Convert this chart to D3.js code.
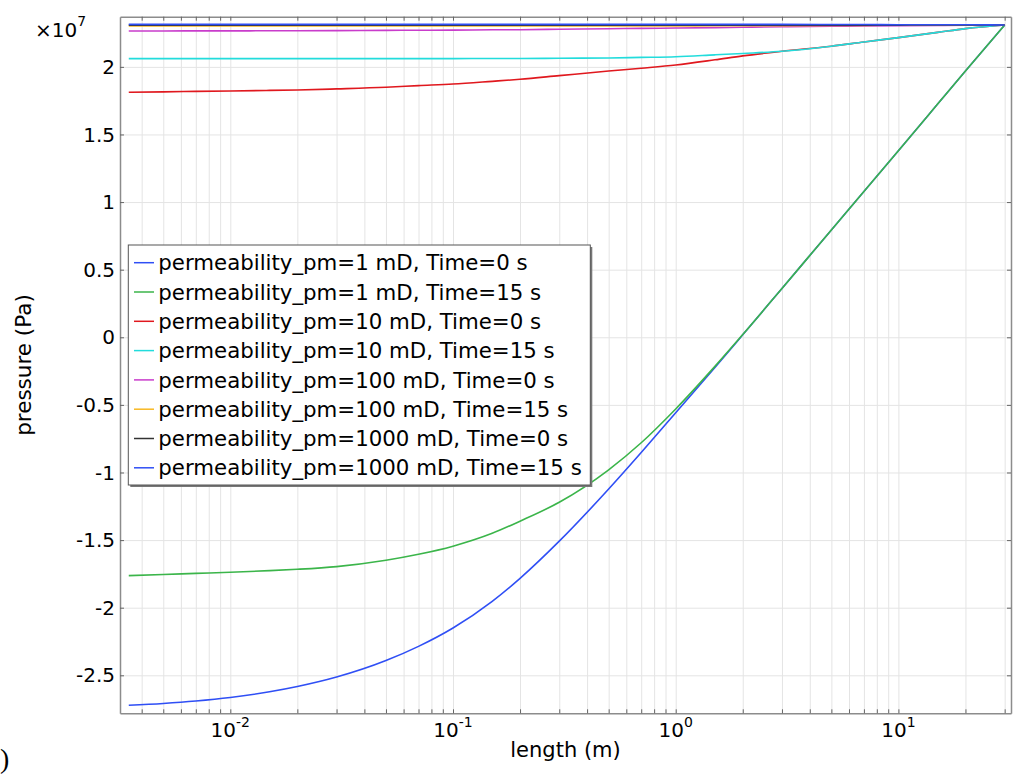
<!DOCTYPE html>
<html>
<head>
<meta charset="utf-8">
<script src="https://cdn.jsdelivr.net/npm/d3@7"></script>
<style>
	body { margin: 0; background: #fff; }
	text { font-family: "DejaVu Sans", sans-serif; fill: #000; }
	.grid line { stroke: #e4e4e4; stroke-width: 1; }
	.grid path { display: none; }
	.frame path { stroke: #8c8c8c; stroke-width: 1.5; }
	.frame line { stroke: #666; }
</style>
</head>
<body>
<div id="chart"></div>
<script>

// sample positions along the length (m)

var lengths = [0.0035, 0.005, 0.007, 0.01, 0.015, 0.02, 0.03, 0.05, 0.07, 0.1,
	0.15, 0.2, 0.3, 0.5, 0.7, 1, 1.5, 2, 3, 5, 7, 10, 15, 20, 30];

// pressure values, in units of 1e7 Pa

var p1mD0 = [-2.722, -2.708, -2.690, -2.664, -2.622, -2.583, -2.513, -2.391, -2.286, -2.150,
	-1.953, -1.783, -1.508, -1.122, -0.852, -0.558, -0.224, 0.018, 0.361, 0.794, 1.078, 1.380, 1.725, 1.970, 2.310];

var p1mD15 = [-1.763, -1.755, -1.746, -1.738, -1.726, -1.716, -1.696, -1.649, -1.605, -1.545,
	-1.450, -1.360, -1.220, -0.980, -0.780, -0.530, -0.215, 0.020, 0.361, 0.794, 1.078, 1.380, 1.725, 1.970, 2.310];

var p10mD0 = [1.812, 1.815, 1.819, 1.822, 1.826, 1.829, 1.837, 1.849, 1.861, 1.873,
	1.893, 1.908, 1.935, 1.969, 1.990, 2.014, 2.052, 2.081, 2.115, 2.153, 2.184, 2.216, 2.255, 2.283, 2.310];

var p10mD15 = [2.061, 2.061, 2.061, 2.061, 2.061, 2.061, 2.061, 2.061, 2.061, 2.061,
	2.062, 2.062, 2.064, 2.066, 2.070, 2.075, 2.089, 2.099, 2.115, 2.153, 2.184, 2.216, 2.255, 2.283, 2.310];

var p100mD0 = [2.265, 2.265, 2.266, 2.266, 2.267, 2.267, 2.268, 2.270, 2.271, 2.272,
	2.274, 2.275, 2.278, 2.282, 2.285, 2.287, 2.290, 2.293, 2.297, 2.300, 2.302, 2.304, 2.306, 2.308, 2.310];

var p100mD15 = [2.302, 2.302, 2.302, 2.302, 2.302, 2.302, 2.302, 2.302, 2.302, 2.302,
	2.302, 2.302, 2.302, 2.303, 2.303, 2.303, 2.304, 2.304, 2.305, 2.306, 2.307, 2.308, 2.309, 2.309, 2.310];

var p1000mD0 = [2.309, 2.309, 2.309, 2.309, 2.309, 2.309, 2.309, 2.309, 2.309, 2.309,
	2.309, 2.309, 2.309, 2.309, 2.309, 2.309, 2.309, 2.309, 2.309, 2.309, 2.309, 2.309, 2.310, 2.310, 2.310];

var p1000mD15 = [2.314, 2.314, 2.314, 2.314, 2.314, 2.314, 2.314, 2.314, 2.314, 2.314,
	2.314, 2.314, 2.314, 2.314, 2.314, 2.314, 2.314, 2.314, 2.314, 2.313, 2.313, 2.312, 2.312, 2.311, 2.310];

var seriesLabels = [
	"permeability_pm=1 mD, Time=0 s",
	"permeability_pm=1 mD, Time=15 s",
	"permeability_pm=10 mD, Time=0 s",
	"permeability_pm=10 mD, Time=15 s",
	"permeability_pm=100 mD, Time=0 s",
	"permeability_pm=100 mD, Time=15 s",
	"permeability_pm=1000 mD, Time=0 s",
	"permeability_pm=1000 mD, Time=15 s"
];

var seriesValues = [p1mD0, p1mD15, p10mD0, p10mD15, p100mD0, p100mD15, p1000mD0, p1000mD15];

var seriesColors = ["#2f4ff5", "#3bb54a", "#e0181e", "#22dcdc", "#c93ccb", "#f8b822", "#333333", "#2f4ff5"];

// tick values

var yTicks = [-2.5, -2, -1.5, -1, -0.5, 0, 0.5, 1, 1.5, 2];
var yTickLabels = ["-2.5", "-2", "-1.5", "-1", "-0.5", "0", "0.5", "1", "1.5", "2"];
var xMajorTicks = [0.01, 0.1, 1, 10];
var xMajorExponents = ["-2", "-1", "0", "1"];


// set size of entire chart area

var svgWidth = 1017;
var svgHeight = 776;

var margin = {
	top: 16.7,
	right: 6,
	bottom: 62.7,
	left: 120
};

var width = svgWidth - margin.left - margin.right;
var height = svgHeight - margin.top - margin.bottom;

var svg = d3.select("#chart")
	.append("svg")
	.attr("width", svgWidth)
	.attr("height", svgHeight);

var chartGroup = svg.append("g")
	.attr("transform", `translate(${margin.left}, ${margin.top})`);


// scales

var xLogScale = d3.scaleLog()
	.domain([Math.pow(10, -2.4953), Math.pow(10, 1.5056)])
	.range([0, width]);

var yLinearScale = d3.scaleLinear()
	.domain([-2.781, 2.371])
	.range([height, 0]);


// minor tick positions: 1..9 times each decade inside the domain

var xMinorTicks = [];
[-3, -2, -1, 0, 1].forEach(function(e) {
	for (var m = 1; m < 10; m++) {
		var v = m * Math.pow(10, e);
		if (v >= xLogScale.domain()[0] && v <= xLogScale.domain()[1]) {
			xMinorTicks.push(v);
		}
	}
});


// grid lines

chartGroup.append("g")
	.classed("grid", true)
	.attr("transform", `translate(0, ${height})`)
	.call(d3.axisBottom(xLogScale).tickValues(xMinorTicks).tickSize(-height).tickFormat(""));

chartGroup.append("g")
	.classed("grid", true)
	.call(d3.axisLeft(yLinearScale).tickValues(yTicks).tickSize(-width).tickFormat(""));


// lines

var lineGen = d3.line()
	.x(d => xLogScale(d[0]))
	.y(d => yLinearScale(d[1]))
	.curve(d3.curveMonotoneX);

seriesValues.forEach(function(vals, i) {
	var pts = lengths.map((l, j) => [l, vals[j]]);
	chartGroup.append("path")
		.datum(pts)
		.attr("fill", "none")
		.attr("stroke", seriesColors[i])
		.attr("stroke-width", 1.6)
		.attr("d", lineGen);
});


// frame with inward ticks on all four sides

chartGroup.append("g")
	.classed("frame", true)
	.attr("transform", `translate(0, ${height})`)
	.call(d3.axisBottom(xLogScale).tickValues(xMinorTicks).tickSizeInner(-4).tickSizeOuter(0).tickFormat(""));

chartGroup.append("g")
	.classed("frame", true)
	.call(d3.axisTop(xLogScale).tickValues(xMinorTicks).tickSizeInner(-4).tickSizeOuter(0).tickFormat(""));

chartGroup.append("g")
	.classed("frame", true)
	.call(d3.axisLeft(yLinearScale).tickValues(yTicks).tickSizeInner(-4).tickSizeOuter(0).tickFormat(""));

chartGroup.append("g")
	.classed("frame", true)
	.attr("transform", `translate(${width}, 0)`)
	.call(d3.axisRight(yLinearScale).tickValues(yTicks).tickSizeInner(-4).tickSizeOuter(0).tickFormat(""));


// y tick labels

chartGroup.selectAll(null)
	.data(yTicks)
	.enter()
	.append("text")
	.attr("x", -5)
	.attr("y", d => yLinearScale(d))
	.attr("dy", "0.36em")
	.attr("text-anchor", "end")
	.style("font-size", "20px")
	.text((d, i) => yTickLabels[i]);

// x tick labels with superscript exponent

var xLabels = chartGroup.selectAll(null)
	.data(xMajorTicks)
	.enter()
	.append("text")
	.attr("x", d => xLogScale(d))
	.attr("y", height + 24)
	.attr("text-anchor", "middle")
	.style("font-size", "20px");

xLabels.append("tspan").text("10");
xLabels.append("tspan")
	.attr("dy", -10)
	.style("font-size", "14px")
	.text((d, i) => xMajorExponents[i]);


// axis titles

svg.append("text")
	.attr("x", margin.left + width / 2)
	.attr("y", 757)
	.attr("text-anchor", "middle")
	.style("font-size", "21px")
	.text("length (m)");

svg.append("text")
	.attr("transform", `translate(31, ${margin.top + height / 2}) rotate(-90)`)
	.attr("text-anchor", "middle")
	.style("font-size", "21.5px")
	.text("pressure (Pa)");

// exponent factor

var factor = svg.append("text")
	.attr("x", 35)
	.attr("y", 37)
	.style("font-size", "20px");
factor.append("tspan").text("\u00d710");
factor.append("tspan")
	.attr("dy", -11)
	.style("font-size", "14px")
	.text("7");


// legend

var legend = chartGroup.append("g")
	.attr("transform", `translate(${128.3 - margin.left}, ${245 - margin.top})`);

var legendW = 462;
var legendH = 240;

legend.append("rect")
	.attr("x", 2)
	.attr("y", 2)
	.attr("width", legendW)
	.attr("height", legendH)
	.attr("fill", "#777");

legend.append("rect")
	.attr("width", legendW)
	.attr("height", legendH)
	.attr("fill", "#fff")
	.attr("stroke", "#555")
	.attr("stroke-width", 1);

seriesLabels.forEach(function(label, i) {
	var yy = 17.7 + i * 29.3;
	legend.append("line")
		.attr("x1", 5.7)
		.attr("x2", 25.7)
		.attr("y1", yy)
		.attr("y2", yy)
		.attr("stroke", seriesColors[i])
		.attr("stroke-width", 1.5);
	legend.append("text")
		.attr("x", 30)
		.attr("y", yy)
		.attr("dy", "0.36em")
		.style("font-size", "21.3px")
		.text(label);
});

// piece of the caption cut off at the left edge

svg.append("text")
	.attr("x", 0)
	.attr("y", 768)
	.style("font-family", "'Liberation Serif', serif")
	.style("font-size", "28px")
	.text(")");

</script>
</body>
</html>
